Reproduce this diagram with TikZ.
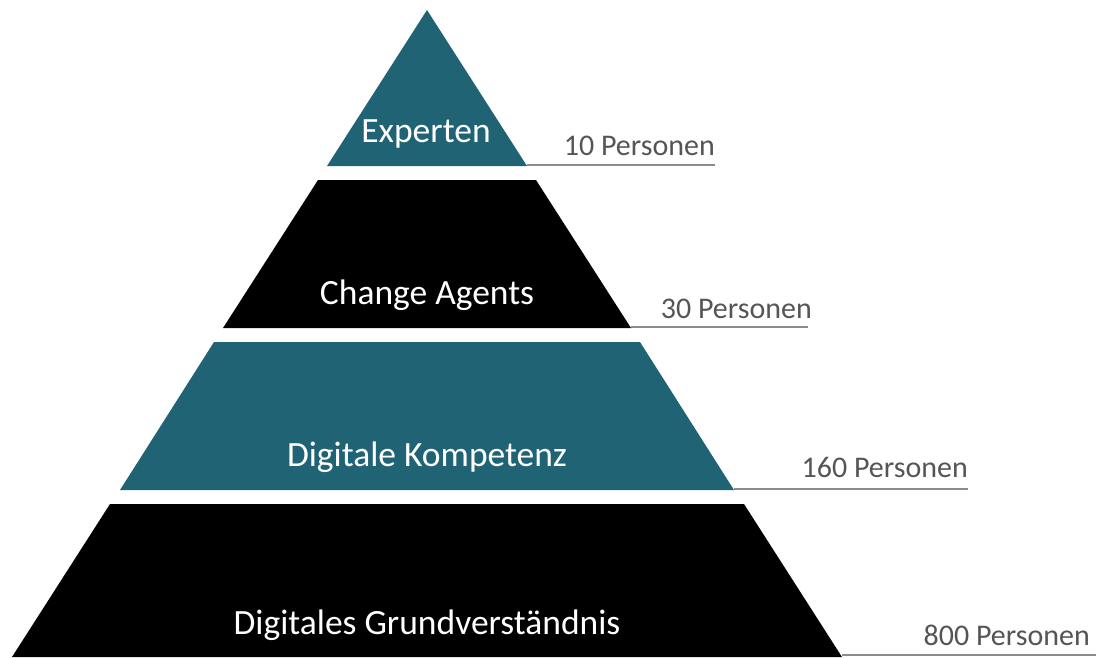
\documentclass[tikz,border=0pt]{standalone}
\usepackage{fontspec}
\setmainfont{Carlito}
\definecolor{teal}{HTML}{1F6375}
\definecolor{rulegray}{HTML}{8C8C8C}
\definecolor{labelgray}{HTML}{555555}
\begin{document}
\begin{tikzpicture}[x=1pt,y=-1pt,
  tierlabel/.style={text=white,font=\fontsize{35.5}{38}\selectfont,anchor=base,inner sep=0pt},
  countlabel/.style={text=labelgray,font=\fontsize{30}{33}\selectfont,anchor=base east,inner sep=0pt},
  tierrule/.style={draw=rulegray,line width=2.5pt}]
\useasboundingbox (0,0) rectangle (1096,657);
% pyramid tiers
\fill[teal] (427,10) -- (527,166) -- (327,166) -- cycle;
\fill[black] (318,180) -- (536,180) -- (631,328) -- (223,328) -- cycle;
\fill[teal] (214,342) -- (640,342) -- (734,490) -- (120,490) -- cycle;
\fill[black] (110,504) -- (744,504) -- (842,657) -- (12,657) -- cycle;
% leader lines
\coordinate (r1a) at (527,165); \coordinate (r1b) at (715,165);
\coordinate (r2a) at (631,327); \coordinate (r2b) at (808,327);
\coordinate (r3a) at (734,489); \coordinate (r3b) at (968,489);
\coordinate (r4a) at (842,655); \coordinate (r4b) at (1096,655);
\draw[tierrule] (r1a) -- (r1b);
\draw[tierrule] (r2a) -- (r2b);
\draw[tierrule] (r3a) -- (r3b);
\draw[tierrule] (r4a) -- (r4b);
% tier names
\node[tierlabel] (t1) at (426,142) {Experten};
\node[tierlabel] (t2) at (427,304) {Change Agents};
\node[tierlabel] (t3) at (427,466) {Digitale Kompetenz};
\node[tierlabel] (t4) at (427,634) {Digitales Grundverständnis};
% head counts
\node[countlabel] (c1) at (715,155) {10 Personen};
\node[countlabel] (c2) at (812,318) {30 Personen};
\node[countlabel] (c3) at (968,477) {160 Personen};
\node[countlabel] (c4) at (1090,645) {800 Personen};
\end{tikzpicture}
\end{document}
